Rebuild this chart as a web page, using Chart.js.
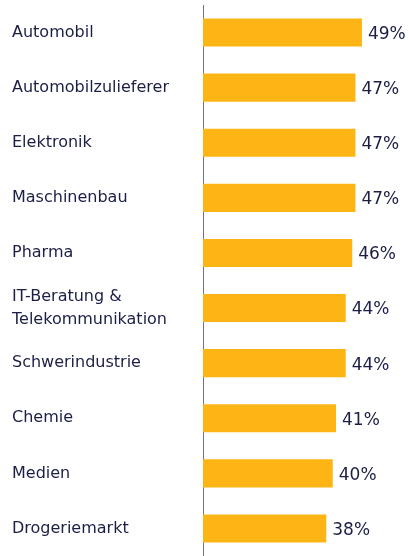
<!DOCTYPE html>
<html>
<head>
<meta charset="utf-8">
<script src="https://cdn.jsdelivr.net/npm/chart.js@4.4.0/dist/chart.umd.min.js"></script>
<style>
  html, body { margin: 0; padding: 0; background: #fff; }
  #wrap { width: 409px; height: 556px; position: relative; }
</style>
</head>
<body>
<div id="wrap"><canvas id="barChart"></canvas></div>
<script>
// Branchen und Werte (%)
const categories = ['Automobil', 'Automobilzulieferer', 'Elektronik', 'Maschinenbau', 'Pharma',
  ['IT-Beratung &', 'Telekommunikation'], 'Schwerindustrie', 'Chemie', 'Medien', 'Drogeriemarkt'];
const values = [49, 47, 47, 47, 46, 44, 44, 41, 40, 38];

const textColor = '#1B1E45';

// Prozentwerte rechts neben die Balken schreiben
const valueLabels = {
  id: 'valueLabels',
  afterDatasetsDraw(chart) {
    const ctx = chart.ctx;
    const meta = chart.getDatasetMeta(0);
    ctx.save();
    ctx.font = '17px "DejaVu Sans"';
    ctx.fillStyle = textColor;
    ctx.textAlign = 'left';
    ctx.textBaseline = 'middle';
    meta.data.forEach((bar, i) => {
      ctx.fillText(values[i] + '%', bar.x + 6, bar.y + 2);
    });
    ctx.restore();
  }
};

const ctx = document.getElementById('barChart').getContext('2d');
const chart = new Chart(ctx, {
  type: 'bar',
  data: {
    labels: categories,
    datasets: [{
      data: values,
      backgroundColor: '#FDB515',
      borderWidth: 0,
      barPercentage: 0.51,
      categoryPercentage: 1.0
    }]
  },
  options: {
    indexAxis: 'y',
    responsive: true,
    maintainAspectRatio: false,
    animation: false,
    layout: { padding: { left: 12, top: 5, right: 0, bottom: 0 } },
    plugins: {
      legend: { display: false },
      tooltip: { enabled: false }
    },
    scales: {
      x: {
        min: 0,
        max: 63.5,
        display: false
      },
      y: {
        grid: { display: false },
        border: { display: true, color: '#6E7090', width: 1 },
        afterFit(scale) {
          scale.width = 191;
          scale.paddingTop = 0;
          scale.paddingBottom = 0;
        },
        ticks: {
          crossAlign: 'far',
          color: textColor,
          font: { family: '"DejaVu Sans"', size: 16, lineHeight: 1.45 },
          padding: 8
        }
      }
    }
  },
  plugins: [valueLabels]
});
</script>
</body>
</html>
